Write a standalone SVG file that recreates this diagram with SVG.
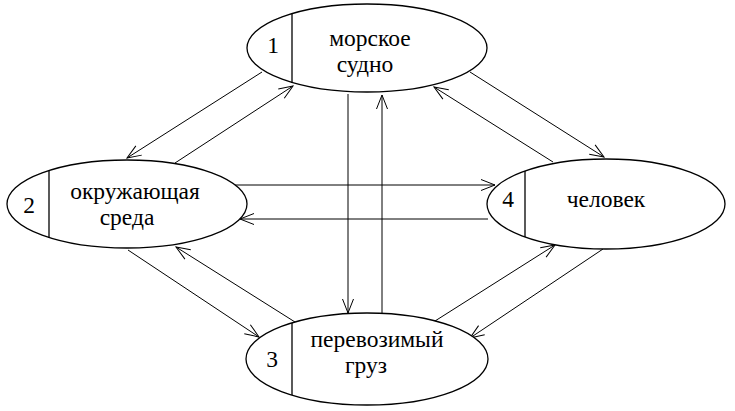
<svg xmlns="http://www.w3.org/2000/svg" width="735" height="411" viewBox="0 0 735 411">
<style>
.node ellipse{fill:#fff;stroke:#000;stroke-width:1.3}
.node line{stroke:#000;stroke-width:1.3}
.t{font-family:"Liberation Serif","Times New Roman",serif;font-size:23.5px;fill:#000;text-anchor:middle}
.c line{stroke:#000;stroke-width:1;marker-end:url(#ah)}
</style>
<defs>
<marker id="ah" markerUnits="userSpaceOnUse" markerWidth="16" markerHeight="14" viewBox="0 0 16 14" refX="15" refY="7" orient="auto">
<path d="M1,1.5 L15,7 L1,12.5" fill="none" stroke="#000" stroke-width="1"/>
</marker>
</defs>
<rect width="735" height="411" fill="#fff"/>
<g class="c" id="connectors">
<line x1="262" y1="72" x2="127" y2="158"/>
<line x1="175" y1="163" x2="293" y2="86"/>
<line x1="470" y1="72" x2="604" y2="157"/>
<line x1="553" y1="162" x2="434" y2="87"/>
<line x1="128" y1="250" x2="259" y2="337"/>
<line x1="295" y1="322" x2="176" y2="247"/>
<line x1="435" y1="321" x2="555" y2="245"/>
<line x1="603" y1="249" x2="470" y2="338"/>
<line x1="348" y1="94" x2="348" y2="313"/>
<line x1="382" y1="313" x2="382" y2="95"/>
<line x1="235" y1="185" x2="495" y2="185"/>
<line x1="488" y1="219" x2="240" y2="219"/>
</g>
<g class="node" id="n1">
<ellipse cx="367" cy="48" rx="120" ry="44"/>
<line x1="292" y1="14" x2="292" y2="83"/>
<text class="t" x="273" y="53">1</text>
<text class="t" x="370" y="46">морское</text>
<text class="t" x="365" y="72">судно</text>
</g>
<g class="node" id="n2">
<ellipse cx="127" cy="204" rx="120" ry="44"/>
<line x1="49" y1="171" x2="49" y2="238"/>
<text class="t" x="29" y="213">2</text>
<text class="t" x="135" y="199">окружающая</text>
<text class="t" x="127" y="225">среда</text>
</g>
<g class="node" id="n3">
<ellipse cx="367" cy="359" rx="121" ry="46"/>
<line x1="292" y1="323" x2="292" y2="395"/>
<text class="t" x="272" y="367">3</text>
<text class="t" x="377" y="347">перевозимый</text>
<text class="t" x="366" y="373">груз</text>
</g>
<g class="node" id="n4">
<ellipse cx="606" cy="204" rx="119" ry="45"/>
<line x1="525" y1="171" x2="525" y2="237"/>
<text class="t" x="508" y="207">4</text>
<text class="t" x="606" y="207">человек</text>
</g>
</svg>
